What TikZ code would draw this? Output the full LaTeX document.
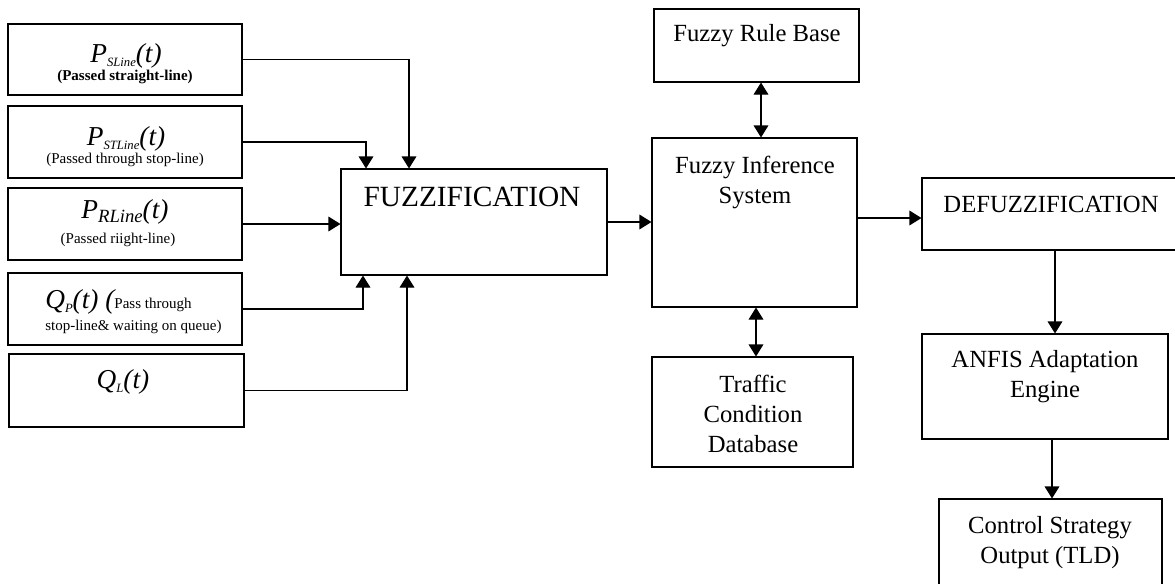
\documentclass[tikz,border=0pt]{standalone}
\usepackage{fontspec}
\setmainfont{Liberation Serif}
\usetikzlibrary{arrows.meta,fit,calc}

% lowered subscript in the current (italic) shape
\newcommand\lowsub[2][9.5]{\raisebox{-0.35ex}{\fontsize{#1}{#1}\selectfont #2}}

\begin{document}
\begin{tikzpicture}[x=0.75pt,y=-0.75pt,
  blk/.style={draw,line width=0.8pt,inner sep=0pt},
  tip/.tip={Triangle[length=9pt,width=11pt]},
  arr/.style={line width=0.8pt,-tip},
  darr/.style={line width=0.8pt,tip-tip},
  lbl/.style={font=\fontsize{18.5}{22.5}\selectfont,align=center,inner sep=0pt},
  sym/.style={font=\fontsize{20.5}{24}\selectfont\itshape,inner sep=0pt},
  note/.style={font=\fontsize{11.25}{13.5}\selectfont,inner sep=0pt}]
\useasboundingbox (0,0) rectangle (1175,583);
\clip (0,0) rectangle (1175,583);

% input boxes
\node[blk,fit={(8,24)(242,95)}] (in1) {};
\node[blk,fit={(8,106)(242,178)}] (in2) {};
\node[blk,fit={(8,188)(242,260)}] (in3) {};
\node[blk,fit={(8,273)(242,345)}] (in4) {};
\node[blk,fit={(9,354)(244,427)}] (in5) {};

% processing chain
\node[blk,fit={(341,169)(607,275)}] (fuzz) {};
\node[blk,fit={(654,9)(859,82)}] (rules) {};
\node[blk,fit={(652,138)(857,307)}] (fis) {};
\node[blk,fit={(652,357)(853,467)}] (tcdb) {};
\node[blk,fit={(922,178)(1185,250)}] (defuzz) {};
\node[blk,fit={(922,334)(1168,439)}] (anfis) {};
\node[blk,fit={(939,499)(1162,595)}] (ctrl) {};

% input labels
\node[sym,anchor=base] (t1) at (126,62) {P\lowsub{SLine}(t)};
\node[note,anchor=base,font=\fontsize{11.25}{13.5}\selectfont\bfseries] (d1) at (125,80) {(Passed straight-line)};
\node[sym,anchor=base] (t2) at (126,145) {P\lowsub{STLine}(t)};
\node[note,anchor=base] (d2) at (125,163) {(Passed through stop-line)};
\node[sym,anchor=base] (t3) at (125,218) {P\lowsub[14]{RLine}(t)};
\node[note,anchor=base] (d3) at (118,243) {(Passed riight-line)};
\node[inner sep=0pt,anchor=base west] (t4) at (45,308)
  {{\fontsize{20.5}{24}\selectfont\itshape Q\lowsub{P}(t) (}{\fontsize{11.25}{13.5}\selectfont Pass through}};
\node[note,anchor=base west] (d4) at (45,330) {stop-line\& waiting on queue)};
\node[sym,anchor=base] (t5) at (123,388) {Q\lowsub{L}(t)};

% block labels
\node[lbl,font=\fontsize{22}{26}\selectfont] (lf) at (472,197) {FUZZIFICATION};
\node[lbl] (lr) at (757,36) {Fuzzy Rule Base};
\node[lbl] (li) at (755,182) {Fuzzy Inference\\System};
\node[lbl] (lt) at (753,414) {Traffic\\Condition\\Database};
\node[lbl] (ld) at (1051,204) {DEFUZZIFICATION};
\node[lbl] (la) at (1045,377) {ANFIS Adaptation\\Engine};
\node[lbl] (lc) at (1050,543) {Control Strategy\\Output (TLD)};

% connector columns and rows
\coordinate (c1) at (409,0);
\coordinate (c2) at (366,0);
\coordinate (c4) at (363,0);
\coordinate (c5) at (407,0);
\coordinate (cr) at (761,0);
\coordinate (ct) at (756,0);
\coordinate (cd) at (1055,0);
\coordinate (ca) at (1052,0);
\coordinate (rfd) at (0,218);

% connectors
\draw[arr] (in1.east) -| (c1 |- fuzz.north);
\draw[arr] (in2.east) -| (c2 |- fuzz.north);
\draw[arr] (in3.east) -- (fuzz.west |- in3.east);
\draw[arr] (in4.east) -| (c4 |- fuzz.south);
\draw[arr] (in5.east) -| (c5 |- fuzz.south);
\draw[arr] (fuzz.east) -- (fis.west |- fuzz.east);
\draw[darr] (cr |- rules.south) -- (cr |- fis.north);
\draw[darr] (ct |- fis.south) -- (ct |- tcdb.north);
\draw[arr] (fis.east |- rfd) -- (defuzz.west |- rfd);
\draw[arr] (cd |- defuzz.south) -- (cd |- anfis.north);
\draw[arr] (ca |- anfis.south) -- (ca |- ctrl.north);
\end{tikzpicture}
\end{document}
